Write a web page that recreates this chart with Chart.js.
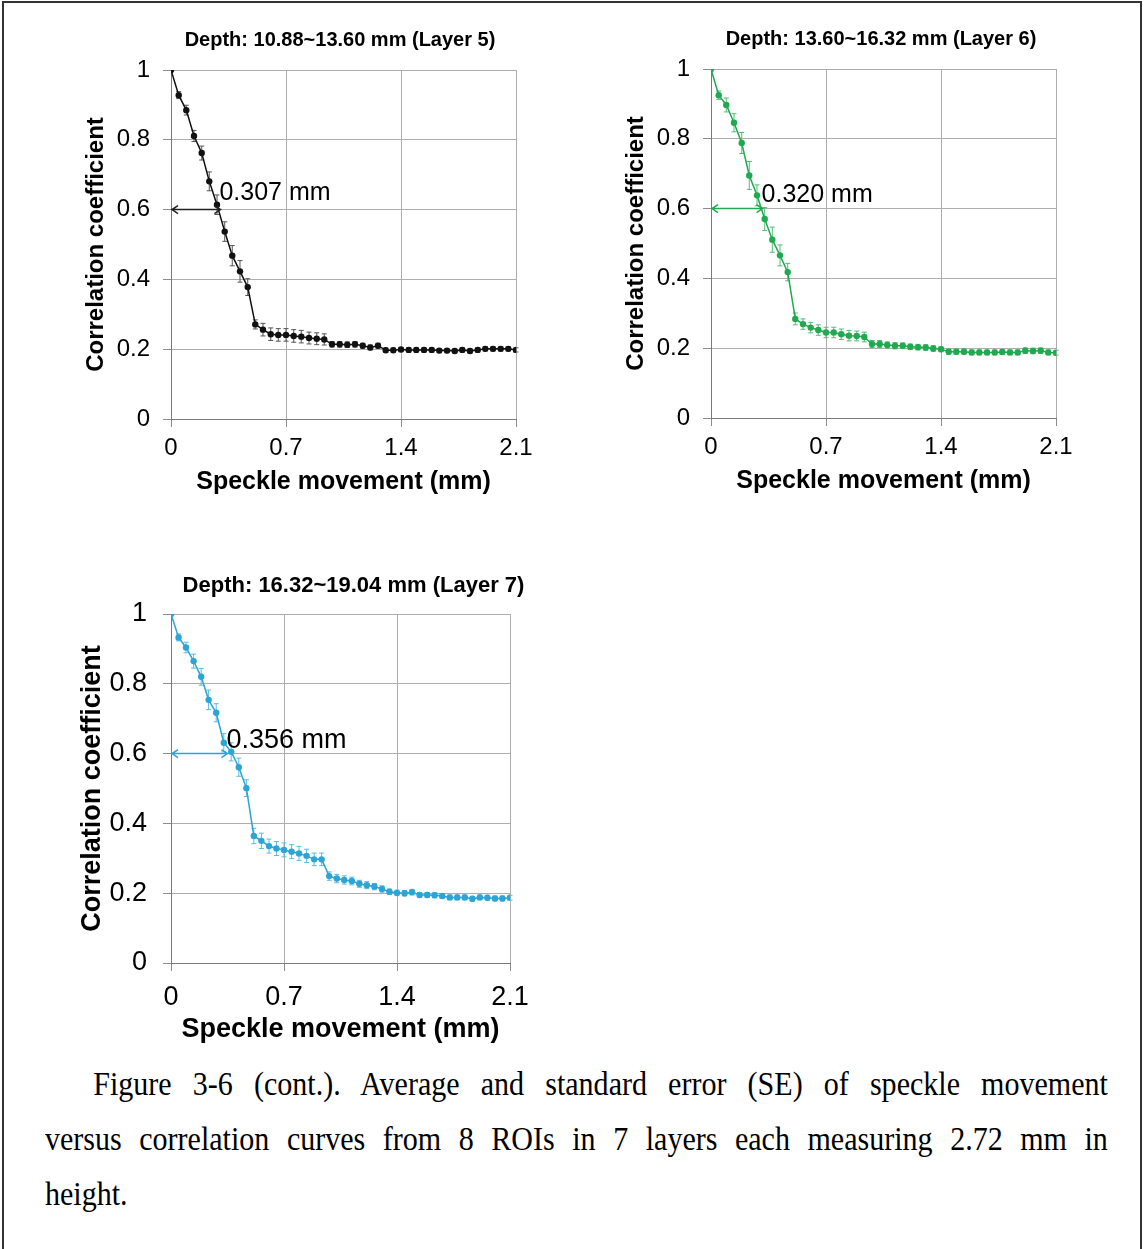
<!DOCTYPE html>
<html>
<head>
<meta charset="utf-8">
<script src="https://cdn.jsdelivr.net/npm/chart.js@4.4.0/dist/chart.umd.min.js"></script>
<style>
html, body { margin: 0; padding: 0; background: #fff; }
#page { position: relative; width: 1144px; height: 1249px; overflow: hidden; background: #fff; }
#frame { position: absolute; left: 2px; top: 1px; width: 1136px; height: 1300px; border: 2px solid #333; border-bottom: none; }
canvas { position: absolute; }
#caption { position: absolute; left: 45px; top: 1057px; width: 1168px;
  transform: scaleX(0.91); transform-origin: 0 0;
  font-family: "Liberation Serif", "Times New Roman", serif; font-size: 33px; line-height: 55px; color: #000; }
#caption div { text-align: justify; text-align-last: justify; white-space: nowrap; }
#caption div.first { text-indent: 53px; }
#caption div.last { text-align-last: left; }
</style>
</head>
<body>
<div id="page">
  <div id="frame"></div>
  <canvas id="c5" width="560" height="489" style="left:60px;top:20px"></canvas>
  <canvas id="c6" width="562" height="489" style="left:600px;top:19px"></canvas>
  <canvas id="c7" width="587" height="487" style="left:60px;top:566px"></canvas>
  <div id="caption">
    <div class="first">Figure 3-6 (cont.). Average and standard error (SE) of speckle movement</div>
    <div>versus correlation curves from 8 ROIs in 7 layers each measuring 2.72 mm in</div>
    <div class="last">height.</div>
  </div>
</div>
<script>
// speckle movement (mm), same for all layers
const movement = [0, 0.047, 0.093, 0.14, 0.187, 0.233, 0.28, 0.327, 0.373, 0.42,
  0.467, 0.513, 0.56, 0.607, 0.653, 0.7, 0.747, 0.793, 0.84, 0.887,
  0.933, 0.98, 1.027, 1.073, 1.12, 1.167, 1.213, 1.26, 1.307, 1.353,
  1.4, 1.447, 1.493, 1.54, 1.587, 1.633, 1.68, 1.727, 1.773, 1.82,
  1.867, 1.913, 1.96, 2.007, 2.053, 2.1];

const layer5 = [1.000, 0.928, 0.885, 0.811, 0.762, 0.681, 0.614, 0.537, 0.468, 0.423,
  0.378, 0.271, 0.256, 0.243, 0.241, 0.241, 0.238, 0.236, 0.232, 0.230,
  0.228, 0.214, 0.214, 0.213, 0.214, 0.210, 0.205, 0.210, 0.197, 0.197,
  0.199, 0.198, 0.198, 0.198, 0.198, 0.196, 0.196, 0.195, 0.198, 0.195,
  0.198, 0.201, 0.201, 0.201, 0.201, 0.198];
const layer5SE = [0, 0.010, 0.014, 0.016, 0.020, 0.027, 0.028, 0.028, 0.029, 0.031,
  0.024, 0.013, 0.018, 0.018, 0.018, 0.018, 0.018, 0.018, 0.017, 0.017,
  0.016, 0.008, 0.008, 0.008, 0.008, 0.007, 0.007, 0.007, 0.006, 0.006,
  0.006, 0.006, 0.006, 0.006, 0.006, 0.006, 0.006, 0.006, 0.006, 0.006,
  0.006, 0.006, 0.006, 0.006, 0.006, 0.006];

const layer6 = [1.000, 0.925, 0.897, 0.846, 0.788, 0.695, 0.638, 0.570, 0.511, 0.466,
  0.418, 0.284, 0.269, 0.259, 0.252, 0.245, 0.245, 0.240, 0.236, 0.235,
  0.232, 0.212, 0.212, 0.209, 0.207, 0.207, 0.204, 0.203, 0.202, 0.199,
  0.197, 0.190, 0.190, 0.190, 0.188, 0.188, 0.188, 0.188, 0.189, 0.188,
  0.188, 0.193, 0.192, 0.193, 0.188, 0.187];
const layer6SE = [0, 0.012, 0.020, 0.026, 0.030, 0.040, 0.030, 0.033, 0.036, 0.030,
  0.025, 0.017, 0.015, 0.015, 0.015, 0.015, 0.015, 0.015, 0.015, 0.014,
  0.014, 0.010, 0.010, 0.009, 0.009, 0.008, 0.008, 0.008, 0.008, 0.008,
  0.007, 0.007, 0.007, 0.007, 0.007, 0.007, 0.007, 0.007, 0.007, 0.007,
  0.007, 0.008, 0.008, 0.008, 0.007, 0.007];

const layer7 = [1.000, 0.933, 0.904, 0.865, 0.820, 0.754, 0.717, 0.631, 0.605, 0.561,
  0.501, 0.364, 0.350, 0.335, 0.328, 0.324, 0.319, 0.314, 0.307, 0.297,
  0.297, 0.249, 0.242, 0.238, 0.235, 0.227, 0.223, 0.219, 0.212, 0.204,
  0.201, 0.200, 0.203, 0.195, 0.195, 0.194, 0.192, 0.188, 0.188, 0.188,
  0.184, 0.188, 0.187, 0.185, 0.185, 0.187];
const layer7SE = [0, 0.010, 0.015, 0.020, 0.024, 0.028, 0.026, 0.026, 0.026, 0.026,
  0.024, 0.022, 0.022, 0.020, 0.020, 0.020, 0.020, 0.020, 0.019, 0.018,
  0.018, 0.012, 0.012, 0.012, 0.011, 0.010, 0.010, 0.009, 0.009, 0.008,
  0.008, 0.008, 0.008, 0.007, 0.007, 0.007, 0.007, 0.007, 0.007, 0.007,
  0.007, 0.007, 0.007, 0.007, 0.007, 0.007];

const xTicks = [0, 0.7, 1.4, 2.1];
const yTicks = [0, 0.2, 0.4, 0.6, 0.8, 1];

// width at correlation 0.6 (arrow end, mm) and where its label sits
const halfWidths = [0.307, 0.320, 0.356];
const arrowLevel = 0.6;
const labelLevels = [0.648, 0.639, 0.636];

const FONT = "'Liberation Sans', Arial, Helvetica, sans-serif";

// error bars drawn under the line
const seBars = {
  id: 'seBars',
  beforeDatasetsDraw(chart) {
    const o = chart.options.plugins.seBars;
    const x = chart.scales.x, y = chart.scales.y, ctx = chart.ctx;
    ctx.save();
    ctx.strokeStyle = o.color;
    ctx.lineWidth = 1;
    o.values.forEach((v, i) => {
      const se = o.se[i];
      if (!se) return;
      const px = x.getPixelForValue(movement[i]);
      const top = y.getPixelForValue(v + se), bot = y.getPixelForValue(v - se);
      ctx.beginPath();
      ctx.moveTo(px, top); ctx.lineTo(px, bot);
      ctx.moveTo(px - 2.5, top); ctx.lineTo(px + 2.5, top);
      ctx.moveTo(px - 2.5, bot); ctx.lineTo(px + 2.5, bot);
      ctx.stroke();
    });
    ctx.restore();
  }
};

// double arrow at 0.6 with its mm label
const halfArrow = {
  id: 'halfArrow',
  afterDatasetsDraw(chart) {
    const o = chart.options.plugins.halfArrow;
    const x = chart.scales.x, y = chart.scales.y, ctx = chart.ctx;
    const x0 = x.getPixelForValue(0), x1 = x.getPixelForValue(o.end);
    const py = y.getPixelForValue(arrowLevel);
    ctx.save();
    ctx.strokeStyle = o.color;
    ctx.lineWidth = 1.5;
    ctx.beginPath();
    ctx.moveTo(x0, py); ctx.lineTo(x1, py);
    ctx.moveTo(x0 + 7, py - 4); ctx.lineTo(x0 + 1, py); ctx.lineTo(x0 + 7, py + 4);
    ctx.moveTo(x1 - 7, py - 4); ctx.lineTo(x1 - 1, py); ctx.lineTo(x1 - 7, py + 4);
    ctx.stroke();
    ctx.fillStyle = '#000';
    ctx.font = o.size + 'px ' + FONT;
    ctx.textBaseline = 'middle';
    ctx.textAlign = 'left';
    ctx.fillText(o.end.toFixed(3) + ' mm', x1 - 2, y.getPixelForValue(o.labelAt));
    ctx.restore();
  }
};

function makeChart(id, cfg) {
  const s = cfg.sizes;
  return new Chart(document.getElementById(id), {
    type: 'line',
    data: {
      datasets: [{
        data: movement.map((m, i) => ({ x: m, y: cfg.values[i] })),
        borderColor: cfg.color,
        backgroundColor: cfg.color,
        borderWidth: 1.5,
        pointRadius: 3.2,
        pointBorderWidth: 0,
        pointBackgroundColor: cfg.color,
        tension: 0
      }]
    },
    options: {
      responsive: false,
      animation: false,
      events: [],
      layout: { padding: 0 },
      plugins: {
        legend: { display: false },
        tooltip: { enabled: false },
        title: {
          display: true,
          text: cfg.title,
          color: '#000',
          font: { family: FONT, size: s.title, weight: 'bold', lineHeight: 1.2 },
          padding: { top: s.titleTop, bottom: s.titleBottom }
        },
        seBars: { values: cfg.values, se: cfg.se, color: cfg.errColor },
        halfArrow: { end: cfg.half, labelAt: cfg.labelAt, color: cfg.arrowColor, size: s.note }
      },
      scales: {
        x: {
          type: 'linear',
          min: 0, max: 2.1,
          afterBuildTicks: sc => { sc.ticks = xTicks.map(v => ({ value: v })); },
          afterFit: sc => { sc.height = 90; },
          ticks: {
            color: '#000', font: { family: FONT, size: s.tick, lineHeight: 1.2 },
            padding: s.xTickPad, autoSkip: false, maxRotation: 0,
            callback: v => String(v)
          },
          grid: { color: '#adadad', lineWidth: 1, tickLength: 8, tickColor: '#8c8c8c' },
          border: { color: '#7a7a7a', width: 1 },
          title: {
            display: true, text: 'Speckle movement (mm)', color: '#000',
            font: { family: FONT, size: s.axis, weight: 'bold', lineHeight: 1.2 },
            padding: { top: 0, bottom: s.xTitleBottom }
          }
        },
        y: {
          min: 0, max: 1,
          afterBuildTicks: sc => { sc.ticks = yTicks.map(v => ({ value: v })); },
          afterFit: sc => { sc.width = 111; },
          ticks: {
            color: '#000', font: { family: FONT, size: s.tick, lineHeight: 1.2 },
            padding: s.yTickPad, callback: v => String(v)
          },
          grid: { color: '#adadad', lineWidth: 1, tickLength: 8, tickColor: '#8c8c8c' },
          border: { color: '#7a7a7a', width: 1 },
          title: {
            display: true, text: 'Correlation coefficient', color: '#000',
            font: { family: FONT, size: s.yAxis, weight: 'bold', lineHeight: 1.2 },
            padding: { top: s.yTitleTop, bottom: 0 }
          }
        },
        // empty right-hand box so the title centres over the whole figure
        side: {
          type: 'linear',
          position: 'right',
          afterFit: sc => { sc.width = s.padRight; },
          ticks: { display: false },
          grid: { display: false },
          border: { display: false }
        }
      }
    },
    plugins: [seBars, halfArrow]
  });
}

const smallSizes = { padRight: 104, title: 20, titleTop: 8, titleBottom: 18, tick: 24, axis: 25, yAxis: 24,
  note: 25, xTickPad: 6.6, yTickPad: 13, xTitleBottom: 12, yTitleTop: 21.6 };

makeChart('c5', {
  title: 'Depth: 10.88~13.60 mm (Layer 5)', values: layer5, se: layer5SE,
  color: '#111111', errColor: '#555555', arrowColor: '#222222',
  half: halfWidths[0], labelAt: labelLevels[0], sizes: smallSizes
});
makeChart('c6', {
  title: 'Depth: 13.60~16.32 mm (Layer 6)', values: layer6, se: layer6SE,
  color: '#1faa4f', errColor: '#52bd78', arrowColor: '#1faa4f',
  half: halfWidths[1], labelAt: labelLevels[1], sizes: Object.assign({}, smallSizes, { padRight: 106 })
});
makeChart('c7', {
  title: 'Depth: 16.32~19.04 mm (Layer 7)', values: layer7, se: layer7SE,
  color: '#2aa5d5', errColor: '#5cbbe0', arrowColor: '#2aa5d5',
  half: halfWidths[2], labelAt: labelLevels[2],
  sizes: { padRight: 137, title: 22, titleTop: 6.8, titleBottom: 14.8, tick: 27, axis: 27, yAxis: 27,
    note: 27, xTickPad: 10.8, yTickPad: 16, xTitleBottom: 6.8, yTitleTop: 16.8 }
});
</script>
</body>
</html>
